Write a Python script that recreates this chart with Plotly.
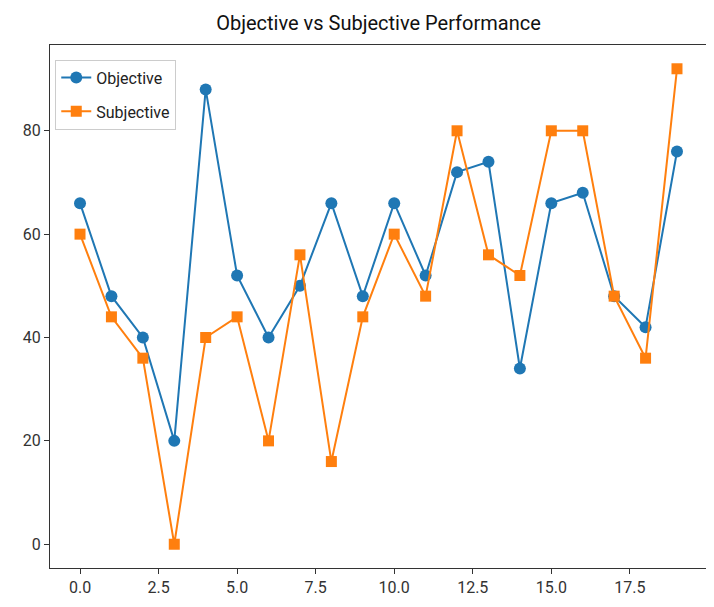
import plotly.graph_objects as go

x_vals = list(range(20))
objective = [66, 48, 40, 20, 88, 52, 40, 50, 66, 48, 66, 52, 72, 74, 34, 66, 68, 48, 42, 76]
subjective = [60, 44, 36, 0, 40, 44, 20, 56, 16, 44, 60, 48, 80, 56, 52, 80, 80, 48, 36, 92]
x_ticks = [0, 2.5, 5, 7.5, 10, 12.5, 15, 17.5]
x_tick_text = ["0.0", "2.5", "5.0", "7.5", "10.0", "12.5", "15.0", "17.5"]
y_ticks = [0, 20, 40, 60, 80]

FONT = "Roboto, Noto Sans, sans-serif"

fig = go.Figure()
fig.add_trace(go.Scatter(x=x_vals, y=objective, mode="lines+markers", name="Objective",
                         legendgroup="a",
                         line=dict(color="#1f77b4", width=2),
                         marker=dict(symbol="circle", size=12, color="#1f77b4")))
fig.add_trace(go.Scatter(x=x_vals, y=subjective, mode="lines+markers", name="Subjective",
                         legendgroup="b",
                         line=dict(color="#ff7f0e", width=2),
                         marker=dict(symbol="square", size=11, color="#ff7f0e")))

axis_common = dict(showgrid=False, zeroline=False, showline=True, linecolor="#333",
                   linewidth=1.3, mirror=True, ticks="outside", ticklen=5,
                   tickcolor="#333", automargin=False,
                   tickfont=dict(size=16, color="#333", family=FONT))

# body has an 8px default margin; compensate so the plot area sits at x 50-707, y 45-568
fig.update_layout(
    width=714, height=607,
    paper_bgcolor="white", plot_bgcolor="white",
    margin=dict(l=42, r=15, t=37, b=47),
    title=dict(text="Objective vs Subjective Performance", x=0.5, xref="paper", xanchor="center",
               y=1 - 15 / 607, yanchor="middle",
               font=dict(size=20, color="#111", family=FONT)),
    xaxis=dict(range=[-0.955, 19.955], tickvals=x_ticks, ticktext=x_tick_text, **axis_common),
    yaxis=dict(range=[-4.6, 96.6], tickvals=y_ticks, **axis_common),
    legend=dict(x=0.008, y=0.972, xanchor="left", yanchor="top",
                traceorder="grouped", tracegroupgap=10,
                bgcolor="rgba(255,255,255,0.8)", bordercolor="#ccc", borderwidth=1,
                font=dict(size=16, color="#222", family=FONT)),
    showlegend=True,
)

fig.write_html("out.html")
